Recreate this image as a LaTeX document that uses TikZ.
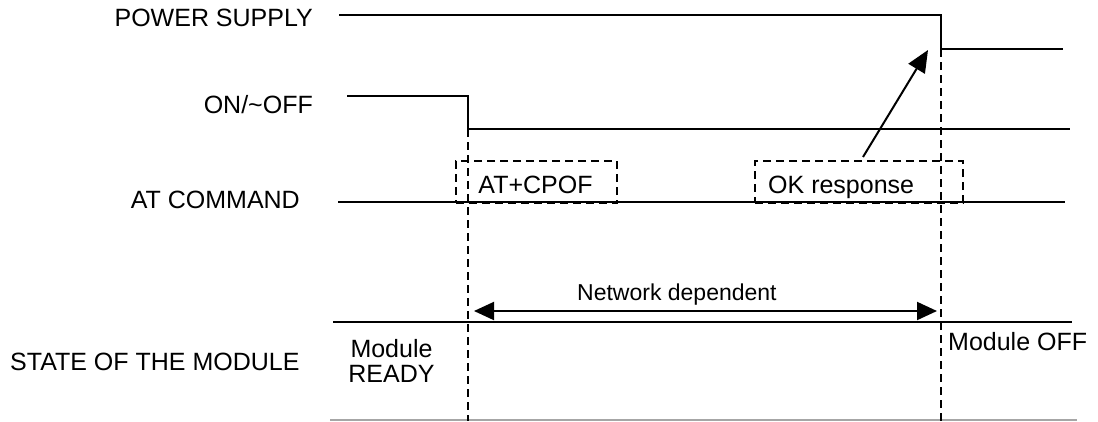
\documentclass[tikz,border=0pt]{standalone}
\usepackage{fontspec}
\setmainfont{Liberation Sans}
\usetikzlibrary{arrows.meta}
\begin{document}
\begin{tikzpicture}[x=1pt,y=-1pt,
  sig/.style={line width=2pt},
  guide/.style={line width=1.8pt, dash pattern=on 8pt off 5pt},
  dbox/.style={draw, line width=1.8pt, dash pattern=on 8pt off 5pt, inner sep=0pt},
  lbl/.style={inner sep=0pt, font=\fontsize{25}{25}\selectfont},
  small/.style={inner sep=0pt, font=\fontsize{23}{25}\selectfont},
  bigtip/.style={line width=2pt, -{Triangle[length=22pt,width=19pt]}},
  dbltip/.style={line width=2pt, {Triangle[length=20pt,width=18pt]}-{Triangle[length=20pt,width=18pt]}},
]
\useasboundingbox (0,0) rectangle (1098,421);

% labels
\node[lbl, anchor=base east] (lps) at (313,26.5) {POWER SUPPLY};
\node[lbl, anchor=base east] (lon) at (313,113.5) {ON/\textasciitilde OFF};
\node[lbl, anchor=base east] (lat) at (300,208) {AT COMMAND};
\node[lbl, anchor=base west] (lst) at (10,370) {STATE OF THE MODULE};

% power supply
\coordinate (ps0) at (339,15);
\coordinate (ps1) at (941,15);
\coordinate (ps2) at (941,49);
\coordinate (ps3) at (1063,49);
\draw[sig] (ps0) -- (ps1) -- (ps2) -- (ps3);

% on/off
\coordinate (on0) at (347,96);
\coordinate (on1) at (468,96);
\coordinate (on2) at (468,129);
\coordinate (on3) at (1070,129);
\draw[sig] (on0) -- (on1) -- (on2) -- (on3);

% at command
\coordinate (at0) at (338,202);
\coordinate (at1) at (1065,202);
\draw[sig] (at0) -- (at1);

% state
\coordinate (st0) at (333,322);
\coordinate (st1) at (1072,322);
\draw[sig] (st0) -- (st1);
\coordinate (bt0) at (330,420);
\coordinate (bt1) at (1077,420);
\draw[line width=1.5pt, gray!70] (bt0) -- (bt1);

% guides
\coordinate (g1b) at (468,421);
\coordinate (g2b) at (941,421);
\draw[guide] (on2) -- (g1b);
\draw[guide] (ps2) -- (g2b);

% dashed boxes
\node[dbox, minimum width=161pt, minimum height=42pt] (cpofbox) at (536.5,182) {};
\node[lbl, anchor=base] (cpof) at (535.5,193) {AT+CPOF};
\node[dbox, minimum width=208pt, minimum height=42pt] (okbox) at (859,182) {};
\node[lbl, anchor=base west] (ok) at (768,193) {OK response};

% OK arrow
\coordinate (oktail) at (863,157);
\coordinate (okhead) at (928,50);
\draw[bigtip] (oktail) -- (okhead);

% network dependent
\coordinate (nd0) at (474,311);
\coordinate (nd1) at (937,311);
\draw[dbltip] (nd0) -- (nd1);
\node[small, anchor=base west] (nd) at (577,300) {Network dependent};

% state texts
\node[lbl, anchor=base, align=center] (ready) at (391.5,382) {Module\\READY};
\node[lbl, anchor=base west] (off) at (948,350) {Module OFF};
\end{tikzpicture}
\end{document}
